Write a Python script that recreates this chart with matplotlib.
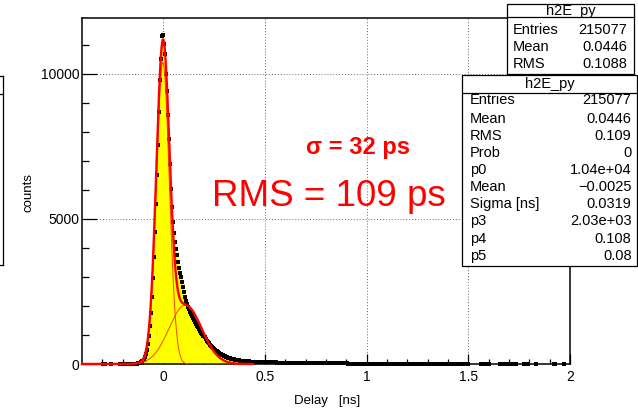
import numpy as np
import matplotlib
matplotlib.use('Agg')
import matplotlib.pyplot as plt
from matplotlib.patches import Rectangle
from matplotlib.lines import Line2D

plt.rcParams['font.family'] = ['Liberation Sans', 'DejaVu Sans']

# histogram binning (480 bins of 5 ps from -0.4 to 2 ns)
x_min, x_max, n_bins = -0.4, 2.0, 480

# bin contents, split in three parts
counts_head = [  # -0.3975 ... -0.1275
    0, 0, 0, 0, 0, 0, 0, 0, 0, 0,
    0, 0, 0, 0, 0, 0, 0, 0, 0, 0,
    1, 2, 1, 0, 0, 0, 0, 0, 1, 0,
    0, 0, 0, 0, 0, 0, 0, 1, 1, 2,
    1, 2, 2, 3, 2, 4, 3, 5, 4, 6,
    7, 9, 8, 11, 14,
]
counts_core = [  # -0.1225 ... 0.4725
    20, 30, 45, 68, 100, 150, 225, 330, 480, 680,
    950, 1300, 1750, 2300, 2950, 3700, 4550, 5500, 6500, 7550,
    8700, 9800, 10500, 11300, 11360, 11050, 10700, 10000, 9400, 8600,
    7750, 6900, 6050, 5400, 4900, 4500, 4200, 3950, 3750, 3500,
    3300, 3150, 3000, 2830, 2650, 2480, 2320, 2180, 2060, 1960,
    1880, 1800, 1720, 1640, 1570, 1500, 1440, 1380, 1320, 1260,
    1200, 1140, 1080, 1025, 970, 915, 860, 810, 760, 715,
    670, 630, 590, 555, 520, 490, 460, 432, 405, 380,
    358, 336, 316, 298, 280, 264, 249, 235, 222, 210,
    199, 188, 178, 169, 161, 153, 146, 139, 133, 127,
    118, 114, 110, 106, 102, 99, 96, 93, 90, 88,
    85, 83, 81, 79, 77, 75, 73, 72, 70, 69,
]
counts_tail = [  # 0.4775 ... 1.9975
    68, 66, 65, 64, 62, 61, 60, 59, 58, 57,
    56, 55, 54, 54, 53, 52, 51, 50, 50, 49,
    48, 48, 47, 46, 46, 45, 44, 44, 43, 43,
    42, 42, 41, 40, 40, 39, 39, 38, 38, 37,
    37, 36, 36, 35, 35, 34, 34, 33, 33, 32,
    32, 31, 31, 30, 30, 29, 29, 28, 28, 28,
    27, 27, 26, 26, 25, 25, 25, 24, 24, 23,
    23, 23, 22, 22, 21, 21, 21, 20, 20, 20,
    19, 19, 19, 18, 18, 18, 17, 17, 17, 16,
    16, 16, 15, 15, 15, 14, 14, 14, 13, 13,
    13, 13, 12, 12, 12, 11, 11, 11, 11, 10,
    10, 10, 10, 9, 9, 9, 9, 8, 8, 8,
    8, 8, 7, 7, 7, 7, 7, 6, 6, 6,
    6, 6, 6, 5, 5, 5, 5, 5, 5, 4,
    4, 4, 4, 4, 4, 4, 4, 3, 3, 3,
    3, 3, 3, 3, 3, 3, 3, 2, 2, 2,
    2, 2, 2, 2, 2, 2, 2, 2, 2, 2,
    2, 2, 1, 2, 1, 2, 1, 1, 2, 1,
    1, 1, 2, 1, 1, 1, 1, 2, 1, 1,
    1, 1, 1, 1, 1, 1, 1, 1, 1, 1,
    1, 1, 1, 1, 1, 0, 0, 0, 0, 0,
    0, 0, 0, 0, 0, 0, 0, 1, 1, 1,
    1, 1, 1, 1, 1, 1, 0, 0, 0, 0,
    0, 0, 0, 0, 0, 0, 1, 1, 1, 1,
    1, 1, 1, 1, 1, 1, 1, 1, 1, 1,
    1, 1, 0, 0, 0, 0, 0, 0, 0, 1,
    1, 1, 1, 1, 0, 0, 0, 0, 0, 0,
    0, 1, 0, 0, 0, 0, 0, 0, 0, 0,
    0, 0, 0, 0, 0, 0, 0, 0, 0, 1,
    1, 0, 0, 0, 0, 0, 0, 0, 0, 1,
    0, 0, 0, 0, 0,
]

# double gaussian fit parameters (from the stats box)
fit_p = [1.04e4, -0.0025, 0.0319, 2.03e3, 0.108, 0.08]
fit_range = (-0.4, 0.44)

stats_small = [('Entries', '215077'), ('Mean', '0.0446'), ('RMS', '0.1088')]
stats_fit = [('Entries', '215077'), ('Mean', '0.0446'), ('RMS', '0.109'),
             ('Prob', '0'), ('p0', '1.04e+04'), ('Mean', '\u22120.0025'),
             ('Sigma [ns]', '0.0319'), ('p3', '2.03e+03'), ('p4', '0.108'),
             ('p5', '0.08')]

counts = np.array(counts_head + counts_core + counts_tail, dtype=float)
edges = np.linspace(x_min, x_max, n_bins + 1)
centers = 0.5 * (edges[:-1] + edges[1:])

W, H = 638, 408
fig = plt.figure(figsize=(W / 100, H / 100), dpi=100)


def fx(px):
    return px / W


def fy(py):
    return 1 - py / H


ax = fig.add_axes([fx(82), fy(364), (570 - 82) / W, (364 - 18) / H])

# yellow histogram + black points
ax.stairs(counts, edges, fill=True, color='#ffff00', zorder=2)
nz = counts > 0
ax.plot(centers[nz], counts[nz], 's', color='black', ms=3.1, mew=0,
        zorder=3, clip_on=False)

# fit function and its two components
xf = np.linspace(fit_range[0], fit_range[1], 800)
g1 = fit_p[0] * np.exp(-0.5 * ((xf - fit_p[1]) / fit_p[2]) ** 2)
g2 = fit_p[3] * np.exp(-0.5 * ((xf - fit_p[4]) / fit_p[5]) ** 2)
ax.plot(xf, g1, color='#ff4000', lw=0.7, zorder=4)
ax.plot(xf, g2, color='#ff4000', lw=0.7, zorder=4)
ax.plot(xf, g1 + g2, color='red', lw=1.7, zorder=5, clip_on=False)

ax.set_xlim(x_min, x_max)
ax.set_ylim(0, 11930)
ax.set_xticks([0, 0.5, 1, 1.5, 2])
ax.set_xticklabels(['0', '0.5', '1', '1.5', '2'])
ax.set_xticks([-0.3, -0.2, -0.1, 0.1, 0.2, 0.3, 0.4, 0.6, 0.7, 0.8, 0.9,
               1.1, 1.2, 1.3, 1.4, 1.6, 1.7, 1.8, 1.9], minor=True)
ax.set_yticks([0, 5000, 10000])
ax.set_yticklabels(['0', '5000', '10000'])
ax.set_yticks([1000, 2000, 3000, 4000, 6000, 7000, 8000, 9000, 11000], minor=True)

ax.tick_params(which='both', direction='in', top=False, right=False,
               colors='black', width=0.9)
ax.tick_params(axis='y', which='major', length=10.5, labelsize=10, pad=2)
ax.tick_params(axis='y', which='minor', length=5.3)
ax.tick_params(axis='x', which='major', length=7.5, labelsize=10, pad=4)
ax.tick_params(axis='x', which='minor', length=3.7)

ax.grid(True, which='major', linestyle=(0, (1, 2)), color='#666666', lw=0.7)
ax.set_axisbelow(True)
for s in ax.spines.values():
    s.set_linewidth(1.1)

fig.text(fx(327), fy(401), 'Delay   [ns]', fontsize=9.5, ha='center', va='center')
fig.text(fx(29), fy(192), 'counts', fontsize=9.5, rotation=90,
         ha='center', va='center')

# annotations
fig.text(fx(306), fy(154), '\u03c3 = 32 ps', color='red', fontsize=17,
         fontweight='bold', va='baseline')
fig.text(fx(212), fy(206), 'RMS = 109 ps', color='red', fontsize=26.5,
         va='baseline')


def stats_box(left, top, right, bottom, sep, title_y, row_ys, rows,
              lab_x, val_x, z):
    fig.add_artist(Rectangle((fx(left), fy(bottom)), (right - left) / W,
                             (bottom - top) / H, transform=fig.transFigure,
                             facecolor='white', edgecolor='black', lw=0.9,
                             zorder=z))
    fig.add_artist(Line2D([fx(left), fx(right)], [fy(sep), fy(sep)],
                          transform=fig.transFigure, color='black', lw=0.9,
                          zorder=z + 0.1))
    fig.text(fx((left + right) / 2), fy(title_y), 'h2E_py', fontsize=10.5,
             ha='center', va='center', zorder=z + 0.1)
    for (lab, val), y in zip(rows, row_ys):
        fig.text(fx(lab_x), fy(y), lab, fontsize=10.5, ha='left',
                 va='center', zorder=z + 0.1)
        fig.text(fx(val_x), fy(y), val, fontsize=10.5, ha='right',
                 va='center', zorder=z + 0.1)


stats_box(507, 4, 634, 74, 17, 11, [30, 47, 64], stats_small,
          512.5, 627.5, 10)
stats_box(462, 75, 637, 266, 92.5, 84,
          [100.5, 118.5, 136, 153, 170, 187.5, 204, 221.5, 239, 256],
          stats_fit, 470, 631.5, 20)

# piece of a neighbouring box at the left border
for y in (76, 94, 265):
    fig.add_artist(Line2D([fx(0), fx(3)], [fy(y), fy(y)],
                          transform=fig.transFigure, color='black', lw=0.9))
fig.add_artist(Line2D([fx(3), fx(3)], [fy(76), fy(265)],
                      transform=fig.transFigure, color='black', lw=0.9))

fig.savefig('out.png', dpi=100)
